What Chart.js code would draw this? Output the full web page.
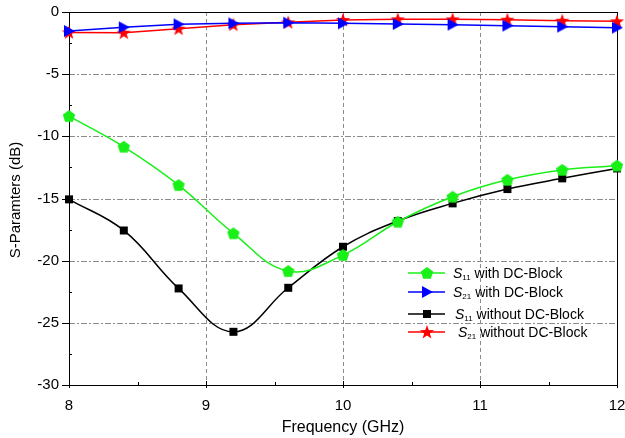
<!DOCTYPE html>
<html><head><meta charset="utf-8">
<script src="https://cdn.jsdelivr.net/npm/chart.js@4/dist/chart.umd.min.js"></script>
<style>html,body{margin:0;padding:0;background:#fff}canvas{display:block}</style>
</head><body>
<canvas id="c" width="625" height="438"></canvas>
<script>
const freq = [8, 8.4, 8.8, 9.2, 9.6, 10, 10.4, 10.8, 11.2, 11.6, 12];
const s11With = [-8.37, -10.84, -13.92, -17.8, -20.84, -19.55, -16.87, -14.86, -13.5, -12.7, -12.36];
const s21With = [-1.53, -1.23, -0.99, -0.91, -0.86, -0.91, -0.97, -1.02, -1.1, -1.18, -1.26];
const s11Without = [-15.07, -17.57, -22.23, -25.72, -22.18, -18.88, -16.81, -15.39, -14.24, -13.38, -12.58];
const s21Without = [-1.64, -1.66, -1.34, -1.02, -0.83, -0.64, -0.59, -0.59, -0.62, -0.7, -0.75];
const xTicks = [8, 9, 10, 11, 12];
const yTicks = [0, -5, -10, -15, -20, -25, -30];
const legendSub = ['11', '21', '11', '21'];
const legendRest = [' with DC-Block', ' with DC-Block', ' without DC-Block', ' without DC-Block'];
const xTitle = 'Frequency (GHz)';
const yTitle = 'S-Paramters (dB)';

const FONT = '"Liberation Sans", Arial, sans-serif';
const GREEN = '#18f018', BLUE = '#0000ff', BLACK = '#000000', RED = '#ff0000';

function mk(w, h, draw) {
  const c = document.createElement('canvas'); c.width = w; c.height = h;
  const g = c.getContext('2d'); draw(g, w, h); return c;
}
const pentagon = mk(14, 14, (g) => {
  g.fillStyle = GREEN; g.beginPath();
  for (let i = 0; i < 5; i++) { const a = -Math.PI / 2 + i * 2 * Math.PI / 5; g.lineTo(7 + 6.5 * Math.cos(a), 7.5 + 6.5 * Math.sin(a)); }
  g.closePath(); g.fill();
});
const triRight = mk(14, 14, (g) => {
  g.fillStyle = BLUE; g.beginPath(); g.moveTo(2, 1); g.lineTo(13, 7); g.lineTo(2, 13); g.closePath(); g.fill();
});
const square = mk(10, 10, (g) => { g.fillStyle = BLACK; g.fillRect(1, 1, 8, 8); });
const star = mk(16, 16, (g) => {
  g.fillStyle = RED; g.beginPath();
  for (let i = 0; i < 10; i++) { const r = i % 2 ? 3 : 7.5; const a = -Math.PI / 2 + i * Math.PI / 5; g.lineTo(8 + r * Math.cos(a), 8.5 + r * Math.sin(a)); }
  g.closePath(); g.fill();
});
const markers = [pentagon, triRight, square, star];

function pts(ys) { return freq.map((f, i) => ({ x: f, y: ys[i] })); }

const decor = {
  id: 'decor',
  beforeDatasetsDraw(chart) {
    const { ctx, chartArea: a, scales: { x, y } } = chart;
    ctx.save();
    ctx.lineWidth = 1; ctx.strokeStyle = '#8c8c8c';
    ctx.setLineDash([4, 3]);
    [9, 10, 11].forEach(v => { const px = Math.round(x.getPixelForValue(v)) + 0.5; ctx.beginPath(); ctx.moveTo(px, a.top); ctx.lineTo(px, a.bottom); ctx.stroke(); });
    ctx.setLineDash([6, 2, 2, 2]);
    [-5, -10, -15, -20, -25].forEach(v => { const py = Math.round(y.getPixelForValue(v)) + 0.5; ctx.beginPath(); ctx.moveTo(a.left, py); ctx.lineTo(a.right, py); ctx.stroke(); });
    ctx.setLineDash([]);
    ctx.strokeStyle = '#000';
    ctx.strokeRect(Math.round(a.left) + 0.5, Math.round(a.top) + 0.5, Math.round(a.right - a.left), Math.round(a.bottom - a.top));
    ctx.beginPath();
    for (let v = 8; v <= 12.001; v += 0.5) {
      const px = Math.round(x.getPixelForValue(v)) + 0.5; const maj = Math.abs(v - Math.round(v)) < 1e-6;
      ctx.moveTo(px, a.bottom + (maj ? 3 : 0)); ctx.lineTo(px, a.bottom - (maj ? 4 : 3));
    }
    for (let v = 0; v >= -30.001; v -= 2.5) {
      const py = Math.round(y.getPixelForValue(v)) + 0.5; const maj = Math.abs(v / 5 - Math.round(v / 5)) < 1e-6;
      ctx.moveTo(a.left - (maj ? 7 : 0), py); ctx.lineTo(a.left + (maj ? 0 : 3), py);
    }
    ctx.stroke();
    ctx.fillStyle = '#000'; ctx.textBaseline = 'middle';
    ctx.font = '16px ' + FONT; ctx.textAlign = 'center';
    ctx.fillText(xTitle, (a.left + a.right) / 2, 428);
    ctx.save();
    ctx.translate(16, 200); ctx.rotate(-Math.PI / 2);
    ctx.font = '15px ' + FONT;
    ctx.fillText(yTitle, 0, 0);
    ctx.restore();
    ctx.restore();
  },
  afterDatasetsDraw(chart) {
    const { ctx } = chart;
    const rowsY = [273, 292, 314, 332];
    const textX = [453, 453, 455, 458];
    ctx.save();
    chart.data.datasets.forEach((ds, i) => {
      const yy = rowsY[i];
      ctx.strokeStyle = ds.borderColor; ctx.lineWidth = 1.5;
      ctx.beginPath(); ctx.moveTo(408, yy); ctx.lineTo(445, yy); ctx.stroke();
      const m = markers[i]; ctx.drawImage(m, 427 - m.width / 2, yy - m.height / 2);
      ctx.fillStyle = '#000'; ctx.textBaseline = 'alphabetic'; ctx.textAlign = 'left';
      let tx = textX[i]; const base = yy + 5;
      ctx.font = 'italic 14px ' + FONT; ctx.fillText('S', tx, base); tx += ctx.measureText('S').width;
      ctx.font = '8px ' + FONT; ctx.fillText(legendSub[i], tx, base + 2); tx += ctx.measureText(legendSub[i]).width;
      ctx.font = '14px ' + FONT; ctx.fillText(legendRest[i], tx, base);
    });
    ctx.restore();
  }
};

new Chart(document.getElementById('c'), {
  type: 'line',
  data: {
    datasets: [
      { label: 'S11 with DC-Block', data: pts(s11With), borderColor: GREEN, backgroundColor: GREEN, pointStyle: pentagon, tension: 0.4, borderWidth: 1.5, clip: false },
      { label: 'S21 with DC-Block', data: pts(s21With), borderColor: BLUE, backgroundColor: BLUE, pointStyle: triRight, tension: 0, borderWidth: 1.5, clip: false },
      { label: 'S11 without DC-Block', data: pts(s11Without), borderColor: BLACK, backgroundColor: BLACK, pointStyle: square, tension: 0.4, borderWidth: 1.5, clip: false },
      { label: 'S21 without DC-Block', data: pts(s21Without), borderColor: RED, backgroundColor: RED, pointStyle: star, tension: 0, borderWidth: 1.5, clip: false }
    ]
  },
  options: {
    responsive: false, animation: false, devicePixelRatio: 1,
    layout: { padding: { top: 12, right: 8, left: 0, bottom: 0 } },
    plugins: { legend: { display: false }, tooltip: { enabled: false } },
    scales: {
      x: {
        type: 'linear', min: 8, max: 12,
        afterFit: s => { s.height = 53; s.paddingLeft = 0; s.paddingRight = 0; },
        afterBuildTicks: s => { s.ticks = xTicks.map(v => ({ value: v })); },
        grid: { display: false, drawTicks: false }, border: { display: false },
        ticks: { color: '#000', font: { family: FONT, size: 15 }, padding: 12, maxRotation: 0 }
      },
      y: {
        min: -30, max: 0,
        afterFit: s => { s.width = 69; s.paddingTop = 0; s.paddingBottom = 0; },
        afterBuildTicks: s => { s.ticks = yTicks.map(v => ({ value: v })); },
        grid: { display: false, drawTicks: false }, border: { display: false },
        ticks: { color: '#000', font: { family: FONT, size: 15 }, padding: 10 }
      }
    }
  },
  plugins: [decor]
});
</script>
</body></html>
